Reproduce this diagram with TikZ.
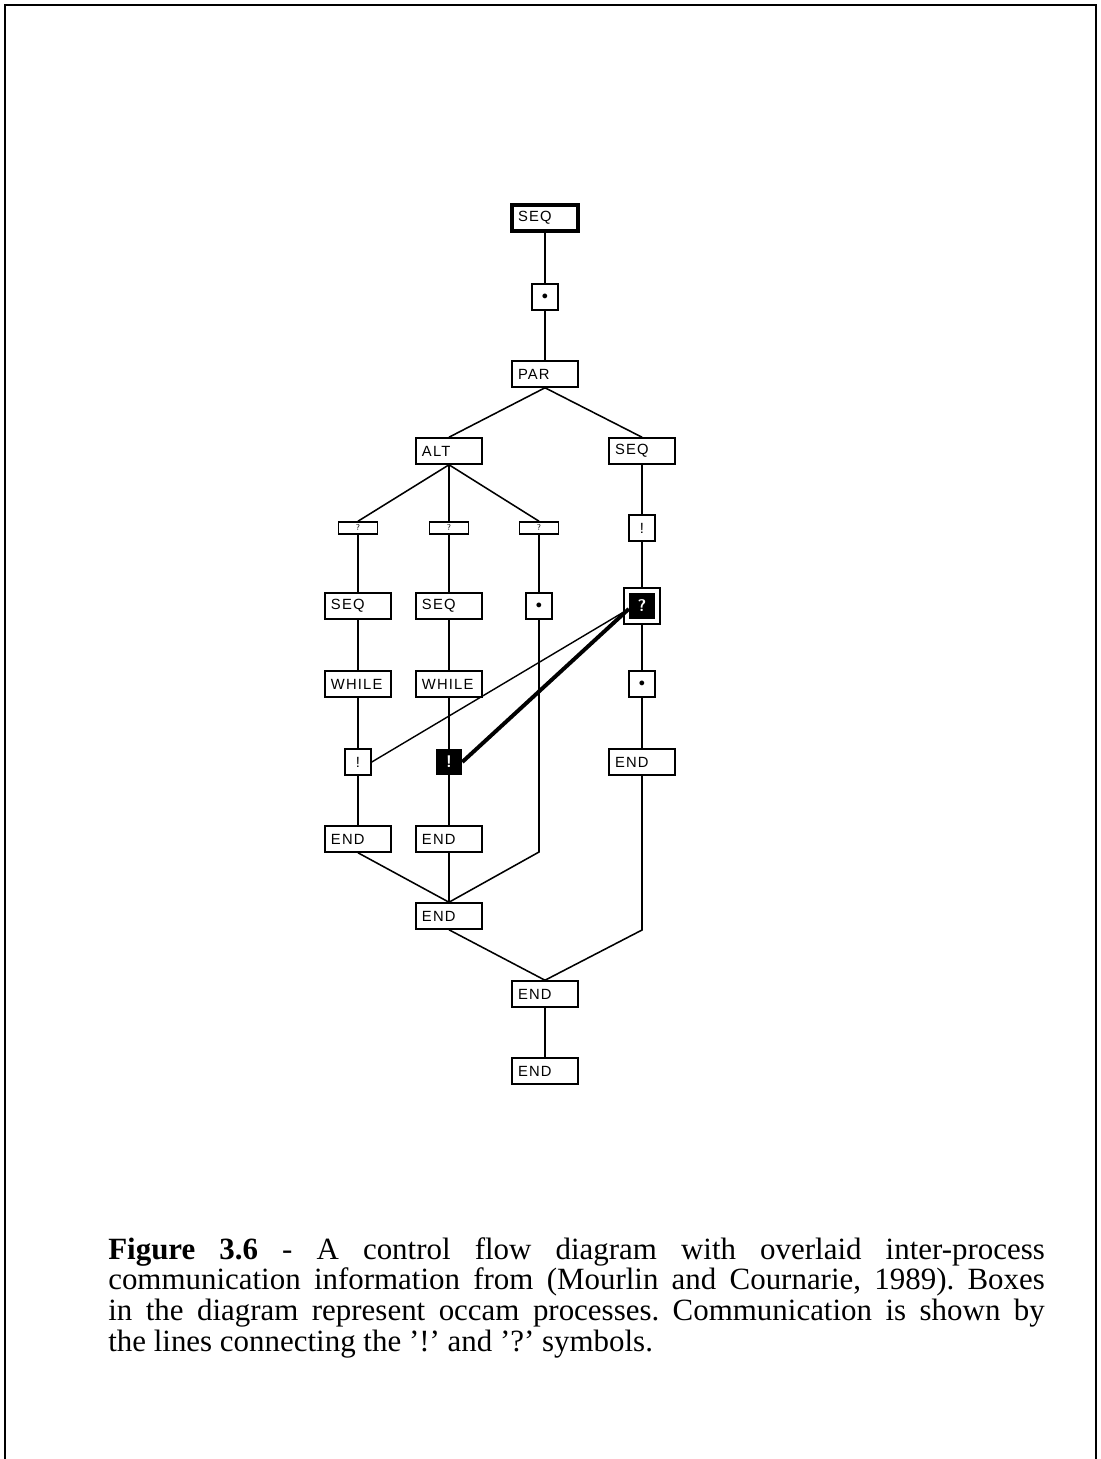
\documentclass[tikz,border=0pt]{standalone}
\usepackage{fontspec}
\setmainfont{Liberation Serif}
\newfontfamily\boxfont[LetterSpace=8]{Liberation Sans}
\usetikzlibrary{calc}
\begin{document}
\begin{tikzpicture}[x=0.025cm,y=-0.025cm,
  conn/.style={line width=1.1pt},
  comm/.style={line width=1.0pt},
  commthick/.style={line width=2.8pt},
  procbox/.style={draw,line width=1.1pt,minimum width=1.65cm,minimum height=0.65cm,
    inner sep=0pt,text width=1.35cm,align=left,font=\boxfont\fontsize{10.5}{11}\selectfont},
  smallbox/.style={draw,line width=1.1pt,minimum width=0.65cm,minimum height=0.65cm,
    inner sep=0pt,font=\boxfont\fontsize{10.5}{11}\selectfont},
  flatbox/.style={draw,line width=1.1pt,minimum width=0.975cm,minimum height=0.3cm,
    inner sep=0pt,font=\sffamily\fontsize{6}{6}\selectfont},
  blackbox/.style={fill=black,text=white,minimum width=0.65cm,minimum height=0.65cm,
    inner sep=0pt,font=\sffamily\bfseries\fontsize{12}{12}\selectfont}
]
\useasboundingbox (0,0) rectangle (1100,1459);
% frame
\draw[line width=2pt] (5,1470) -- (5,5) -- (1096,5) -- (1096,1470);

% nodes
\node[procbox,line width=2.8pt] (seqT) at (545,218) {SEQ};
\node[smallbox] (c1) at (545,297) {\scalebox{0.8}{$\bullet$}};
\node[procbox] (par) at (545,374) {PAR};
\node[procbox] (alt) at (449,451) {ALT};
\node[procbox] (seqR) at (642,451) {SEQ};
\node[flatbox] (qa) at (358,528) {?};
\node[flatbox] (qb) at (449,528) {?};
\node[flatbox] (qc) at (539,528) {?};
\node[smallbox] (exR) at (642,528) {!};
\node[procbox] (seqA) at (358,606) {SEQ};
\node[procbox] (seqB) at (449,606) {SEQ};
\node[smallbox] (c2) at (539,606) {\scalebox{0.8}{$\bullet$}};
\node[draw,line width=1.1pt,minimum size=0.9cm,inner sep=0pt] (qf) at (642,606) {};
\node[blackbox] (q) at (642,606) {?};
\node[procbox] (whA) at (358,684) {WHILE};
\node[procbox] (whB) at (449,684) {WHILE};
\node[smallbox] (c3) at (642,684) {\scalebox{0.8}{$\bullet$}};
\node[smallbox] (exA) at (358,762) {!};
\node[blackbox] (exB) at (449,762) {!};
\node[procbox] (endR) at (642,762) {END};
\node[procbox] (endA) at (358,839) {END};
\node[procbox] (endB) at (449,839) {END};
\node[procbox] (endC) at (449,916) {END};
\node[procbox] (endD) at (545,994) {END};
\node[procbox] (endE) at (545,1071) {END};
\coordinate (k1) at (539,852);
\coordinate (k2) at (642,930);
\coordinate (qin) at ($(q.west)+(0,3)$);

% connectors
\draw[conn] (seqT) -- (c1);
\draw[conn] (c1) -- (par);
\draw[conn] (par.south) -- (alt.north);
\draw[conn] (par.south) -- (seqR.north);
\draw[conn] (alt.south) -- (qa.north);
\draw[conn] (alt.south) -- (qb.north);
\draw[conn] (alt.south) -- (qc.north);
\draw[conn] (qa) -- (seqA);
\draw[conn] (qb) -- (seqB);
\draw[conn] (qc) -- (c2);
\draw[conn] (seqR) -- (exR);
\draw[conn] (exR) -- (qf);
\draw[conn] (qf) -- (c3);
\draw[conn] (c3) -- (endR);
\draw[conn] (seqA) -- (whA);
\draw[conn] (seqB) -- (whB);
\draw[conn] (whA) -- (exA);
\draw[conn] (whB) -- (exB);
\draw[conn] (exA) -- (endA);
\draw[conn] (exB) -- (endB);
\draw[conn] (c2.south) -- (k1) -- (endC.north);
\draw[conn] (endA.south) -- (endC.north);
\draw[conn] (endB) -- (endC);
\draw[conn] (endR.south) -- (k2) -- (endD.north);
\draw[conn] (endC.south) -- (endD.north);
\draw[conn] (endD) -- (endE);

% communication lines
\draw[comm] (exA.east) -- (qin);
\draw[commthick] (exB.east) -- (qin);

% caption
\node[anchor=base west,inner sep=0pt] (cap) at (108,1259) {\parbox[t]{666pt}{\frenchspacing\fontsize{22}{22}\selectfont
\textbf{Figure 3.6} - A control flow diagram with overlaid inter-process\linebreak
communication information from (Mourlin and Cournarie, 1989). Boxes\linebreak
in the diagram represent occam processes. Communication is shown by\linebreak
the lines connecting the '!' and '?' symbols.}};
\end{tikzpicture}
\end{document}
